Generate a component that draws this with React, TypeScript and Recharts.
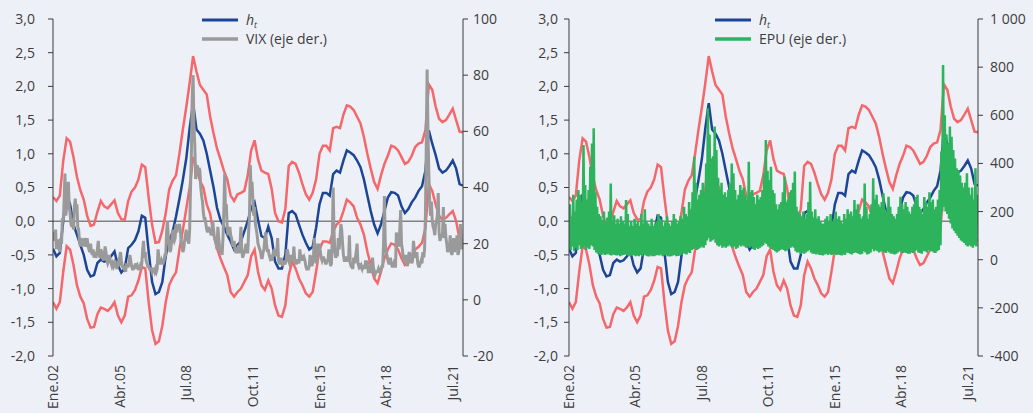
import React from 'react';
import { LineChart, Line, XAxis, YAxis, ReferenceLine } from 'recharts';

// ---------- styling ----------
const FONT = '"Open Sans", "Noto Sans", sans-serif';
const TEXT = '#3d3d3d';
const AXIS = '#3a3a3a';
const BG = '#eef0f7';
const BLUE = '#1c4596';
const RED = '#f4676b';
const GRAY = '#9a9a9a';
const GREEN = '#2db35c';

// ---------- axes ----------
// month index 0 = Ene.02; one step = one month
const monthTicks = [0, 39, 78, 117, 156, 195, 234];
const monthLabels = ['Ene.02', 'Abr.05', 'Jul.08', 'Oct.11', 'Ene.15', 'Abr.18', 'Jul.21'];
const hTicks = [-2, -1.5, -1, -0.5, 0, 0.5, 1, 1.5, 2, 2.5, 3];
const vixTicks = [-20, 0, 20, 40, 60, 80, 100];
const epuTicks = [-400, -200, 0, 200, 400, 600, 800, 1000];

// ---------- h_t and its confidence band (one value every two months) ----------
const hT = [
  -0.41, -0.52, -0.47, 0.0, 0.4, 0.25, -0.05, -0.2, -0.35, -0.5,
  -0.72, -0.82, -0.8, -0.62, -0.57, -0.6, -0.58, -0.52, -0.45, -0.66,
  -0.76, -0.7, -0.4, -0.35, -0.28, -0.15, 0.08, 0.05, -0.45, -0.9,
  -1.08, -1.05, -0.9, -0.51, -0.3, -0.16, 0.07, 0.33, 0.61, 0.93,
  1.38, 1.75, 1.36, 1.3, 1.2, 1.0, 0.75, 0.5, 0.2, 0.02,
  -0.08, -0.2, -0.3, -0.42, -0.35, -0.3, -0.15, 0.0, 0.2, 0.28,
  0.02, -0.22, -0.25, -0.08, -0.25, -0.6, -0.7, -0.7, -0.5, 0.12,
  0.15, 0.1, -0.05, -0.2, -0.32, -0.42, -0.38, -0.1, 0.25, 0.42,
  0.42, 0.38, 0.7, 0.75, 0.72, 0.9, 1.05, 1.02, 0.98, 0.9,
  0.8, 0.62, 0.38, 0.15, -0.05, -0.18, -0.05, 0.15, 0.35, 0.43,
  0.42, 0.38, 0.22, 0.12, 0.18, 0.28, 0.35, 0.45, 0.52, 0.75,
  1.35, 1.15, 0.98, 0.78, 0.72, 0.75, 0.82, 0.9, 0.78, 0.55, 0.53,
];

const upperBand = [
  0.36, 0.3, 0.38, 0.9, 1.23, 1.18, 0.95, 0.66, 0.46, 0.32,
  0.08, -0.07, -0.05, 0.14, 0.3, 0.22, 0.19, 0.25, 0.31, 0.12,
  0.03, 0.02, 0.3, 0.44, 0.5, 0.62, 0.84, 0.8, 0.35, -0.05,
  -0.32, -0.31, -0.14, 0.12, 0.47, 0.6, 0.68, 1.0, 1.36, 1.69,
  2.05, 2.45, 2.22, 2.02, 1.95, 1.88, 1.55, 1.3, 1.08, 0.92,
  0.75, 0.62, 0.38, 0.3, 0.4, 0.42, 0.45, 0.68, 1.05, 1.2,
  0.92, 0.75, 0.72, 0.7, 0.48, 0.12, 0.0, -0.02, 0.18, 0.82,
  0.88, 0.85, 0.72, 0.55, 0.4, 0.32, 0.42, 0.62, 1.0, 1.12,
  1.12, 1.05, 1.38, 1.4, 1.38, 1.58, 1.72, 1.7, 1.65, 1.55,
  1.45, 1.25, 1.0, 0.78, 0.58, 0.48, 0.68, 0.85, 0.97, 1.12,
  1.1, 1.05, 0.95, 0.85, 0.88, 0.97, 1.1, 1.15, 1.17, 1.35,
  2.03, 1.95, 1.7, 1.52, 1.47, 1.5, 1.58, 1.67, 1.5, 1.33, 1.32,
];

const lowerBand = [
  -1.2, -1.3, -1.2, -0.75, -0.37, -0.42, -0.65, -0.95, -1.12, -1.22,
  -1.45, -1.58, -1.57, -1.38, -1.28, -1.3, -1.33, -1.28, -1.2, -1.4,
  -1.5, -1.4, -1.12, -1.1, -1.02, -0.88, -0.68, -0.7, -1.2, -1.62,
  -1.82, -1.78, -1.55, -1.2, -0.95, -0.84, -0.76, -0.42, -0.13, 0.18,
  0.5, 0.95, 0.8, 0.6, 0.5, 0.25, 0.11, -0.2, -0.4, -0.55,
  -0.68, -0.8, -1.05, -1.12, -1.05, -1.0, -0.9, -0.8, -0.52, -0.42,
  -0.75, -0.95, -1.02, -0.88, -1.0, -1.25, -1.4, -1.42, -1.25, -0.8,
  -0.6, -0.7, -0.85, -0.95, -1.07, -1.12, -1.05, -0.75, -0.42, -0.3,
  -0.3, -0.32, -0.15, -0.05, 0.0, 0.15, 0.32, 0.28, 0.22, 0.05,
  -0.05, -0.2, -0.45, -0.65, -0.85, -0.92, -0.75, -0.55, -0.42, -0.33,
  -0.35, -0.42, -0.55, -0.65, -0.62, -0.52, -0.42, -0.38, -0.32, -0.1,
  0.55, 0.45, 0.25, 0.08, 0.02, 0.05, 0.1, 0.15, 0.0, -0.27, -0.28,
];

// ---------- VIX (two readings a month) ----------
const vix = [
  22, 24, 21, 25, 18, 21, 21, 19, 17, 22, 20, 29, 28, 35, 45, 30, 33, 40, 42, 33, 31, 27, 26, 29,
  25, 33, 36, 32, 34, 26, 25, 21, 19, 22, 20, 21, 19, 22, 20, 19, 22, 19, 18, 17, 20, 17, 16, 18,
  15, 17, 15, 16, 18, 21, 16, 15, 18, 17, 15, 14, 16, 19, 17, 14, 13, 14, 16, 14, 13, 12, 13, 12,
  13, 12, 12, 11, 14, 12, 15, 17, 14, 12, 12, 11, 11, 10, 13, 12, 12, 13, 16, 14, 12, 11, 11, 12,
  12, 13, 11, 12, 11, 11, 12, 11, 13, 18, 21, 15, 17, 14, 13, 12, 12, 11, 11, 11, 10, 11, 11, 10,
  11, 10, 11, 18, 15, 13, 13, 14, 13, 13, 14, 16, 16, 24, 28, 22, 20, 17, 18, 21, 25, 22, 21, 22,
  27, 24, 26, 25, 27, 25, 21, 20, 17, 18, 21, 23, 25, 22, 21, 20, 25, 40, 52, 72, 80, 62, 55, 43,
  45, 48, 45, 47, 46, 40, 37, 35, 31, 29, 29, 27, 25, 24, 26, 25, 25, 23, 24, 28, 25, 22, 21, 20,
  18, 26, 22, 19, 17, 17, 16, 22, 32, 45, 30, 34, 25, 23, 25, 26, 23, 22, 20, 19, 21, 18, 17, 17,
  18, 17, 17, 20, 26, 18, 15, 16, 17, 18, 20, 17, 17, 24, 30, 48, 38, 42, 36, 30, 33, 27, 25, 23,
  20, 19, 18, 17, 15, 15, 17, 18, 22, 24, 20, 17, 18, 16, 15, 16, 14, 15, 17, 18, 16, 16, 17, 22,
  14, 13, 13, 15, 13, 12, 14, 13, 13, 14, 18, 17, 14, 13, 14, 16, 15, 14, 19, 14, 13, 13, 14, 14,
  13, 18, 15, 14, 16, 14, 15, 14, 12, 11, 11, 11, 12, 16, 14, 12, 13, 16, 22, 15, 13, 14, 20, 17,
  20, 17, 15, 14, 15, 15, 14, 13, 13, 14, 14, 18, 14, 12, 13, 22, 40, 24, 17, 15, 16, 16, 22, 18,
  22, 27, 25, 20, 16, 14, 14, 15, 15, 14, 14, 23, 13, 12, 12, 11, 15, 13, 15, 17, 20, 13, 12, 13,
  11, 12, 11, 12, 12, 11, 14, 11, 14, 10, 10, 11, 10, 10, 15, 12, 10, 9, 10, 10, 10, 11, 10, 10,
  11, 12, 12, 20, 37, 20, 17, 16, 14, 13, 13, 15, 13, 12, 12, 13, 12, 12, 24, 20, 20, 19, 25, 32,
  20, 18, 15, 14, 14, 16, 13, 12, 15, 17, 16, 15, 13, 14, 21, 18, 16, 15, 17, 13, 12, 12, 13, 14,
  13, 17, 15, 18, 30, 55, 82, 60, 45, 35, 30, 35, 28, 26, 25, 23, 27, 28, 30, 38, 24, 21, 22, 23,
  23, 33, 22, 27, 22, 20, 17, 18, 18, 23, 17, 16, 18, 22, 17, 21, 19, 23, 16, 17, 20, 27, 22, 18,
];

// ---------- EPU (two readings a month) ----------
const epu = [
  45, 230, 40, 180, 55, 270, 35, 200, 50, 250, 40, 290, 60, 270, 45, 240, 50, 476, 55, 310, 40, 250, 50, 290,
  45, 386, 60, 483, 55, 546, 40, 280, 30, 220, 25, 190, 22, 180, 20, 165, 25, 200, 20, 155, 22, 175, 25, 200,
  20, 317, 18, 165, 22, 185, 20, 150, 18, 170, 20, 150, 15, 180, 18, 160, 20, 150, 22, 248, 20, 190, 15, 140,
  15, 160, 18, 140, 20, 170, 15, 150, 18, 160, 15, 140, 20, 190, 15, 150, 25, 210, 18, 160, 15, 150, 14, 140,
  18, 170, 15, 140, 15, 150, 18, 160, 20, 190, 18, 170, 22, 165, 15, 140, 18, 155, 20, 180, 15, 150, 14, 140,
  15, 160, 18, 190, 20, 170, 15, 150, 16, 160, 18, 180, 20, 170, 30, 220, 25, 190, 22, 180, 30, 240, 28, 210,
  40, 280, 45, 428, 50, 320, 40, 250, 45, 270, 50, 290, 55, 320, 50, 280, 60, 400, 80, 629, 90, 520, 75, 420,
  80, 430, 85, 553, 70, 456, 60, 340, 55, 290, 60, 320, 50, 270, 55, 280, 50, 260, 55, 290, 60, 317, 55, 400,
  50, 359, 55, 290, 45, 250, 50, 270, 60, 310, 55, 290, 60, 300, 55, 270, 50, 250, 55, 407, 50, 280, 55, 290,
  45, 260, 40, 230, 50, 270, 45, 250, 50, 260, 55, 290, 60, 360, 70, 497, 65, 370, 55, 330, 50, 386, 45, 290,
  40, 276, 35, 230, 30, 210, 35, 230, 40, 240, 45, 280, 40, 345, 35, 240, 40, 250, 45, 280, 50, 290, 55, 320,
  50, 366, 35, 220, 30, 200, 30, 190, 25, 180, 28, 200, 25, 170, 30, 190, 35, 240, 40, 324, 30, 200, 25, 170,
  25, 210, 22, 170, 25, 180, 20, 160, 20, 150, 18, 150, 22, 170, 25, 180, 20, 160, 25, 190, 20, 160, 22, 170,
  25, 200, 20, 170, 22, 180, 20, 160, 18, 150, 22, 190, 20, 170, 30, 210, 28, 190, 25, 200, 22, 180, 28, 248,
  30, 210, 28, 230, 25, 190, 22, 170, 25, 180, 35, 317, 30, 220, 22, 170, 25, 190, 30, 230, 45, 338, 35, 250,
  40, 270, 35, 230, 30, 220, 35, 240, 35, 276, 30, 210, 28, 200, 35, 262, 30, 220, 25, 190, 25, 180, 22, 170,
  25, 190, 30, 220, 35, 262, 30, 230, 28, 210, 30, 240, 28, 220, 25, 200, 25, 190, 30, 220, 28, 230, 35, 260,
  40, 270, 30, 220, 28, 210, 25, 190, 35, 260, 35, 240, 30, 220, 40, 280, 35, 240, 35, 250, 30, 210, 28, 220,
  35, 250, 40, 290, 60, 450, 200, 809, 220, 600, 200, 520, 190, 480, 170, 553, 150, 511, 130, 456, 120, 420, 110, 380,
  100, 373, 90, 350, 80, 320, 75, 300, 70, 320, 60, 359, 55, 300, 60, 270, 55, 300, 50, 250, 60, 380, 55, 270,
];

// ---------- rows for the library ----------
const bandRows = hT.map((h, i) => ({ m: i * 2, h, up: upperBand[i], lo: lowerBand[i] }));
const vixRows = vix.map((v, i) => ({ m: i / 2, v }));
const epuRows = epu.map((v, i) => ({ m: i / 2, v }));

const fmtLeft = (v: number) => v.toFixed(1).replace('.', ',');
const fmtThousands = (v: number) => {
  const s = String(Math.abs(v));
  const body = s.length > 3 ? s.slice(0, s.length - 3) + ' ' + s.slice(-3) : s;
  return (v < 0 ? '-' : '') + body;
};

const MonthTick = (props: any) => {
  const { x, y, payload } = props;
  const idx = monthTicks.indexOf(payload.value);
  return (
    <text
      x={x}
      y={y}
      transform={`rotate(-90 ${x} ${y})`}
      textAnchor="end"
      dy="0.36em"
      fill={TEXT}
      fontSize={14}
      fontFamily={FONT}
    >
      {idx >= 0 ? monthLabels[idx] : ''}
    </text>
  );
};

type PanelProps = {
  width: number;
  rows: { m: number; v: number }[];
  color: string;
  seriesWidth: number;
  label: string;
  rightTicks: number[];
  rightFmt: (v: number) => string;
  leftTickMargin: number;
  rightTickMargin: number;
  rightWidth: number;
  legendX: number;
};

function Panel(p: PanelProps) {
  const tickStyle = { fill: TEXT, fontSize: 14, fontFamily: FONT };
  return (
    <div style={{ position: 'relative', width: p.width, height: 413 }}>
      <LineChart width={p.width} height={413} margin={{ top: 19, right: 0, bottom: 0, left: 0 }}>
        <XAxis
          type="number"
          dataKey="m"
          domain={[0, 240]}
          ticks={monthTicks}
          interval={0}
          height={57}
          axisLine={false}
          tickLine={false}
          tickSize={0}
          tickMargin={9}
          tick={<MonthTick />}
          allowDataOverflow
        />
        <YAxis
          yAxisId="h"
          orientation="left"
          width={53}
          domain={[-2, 3]}
          ticks={hTicks}
          interval={0}
          tickFormatter={fmtLeft}
          tick={tickStyle}
          tickSize={5}
          tickMargin={p.leftTickMargin}
          axisLine={{ stroke: AXIS }}
          tickLine={{ stroke: AXIS }}
          allowDataOverflow
        />
        <YAxis
          yAxisId="r"
          orientation="right"
          width={p.rightWidth}
          domain={[p.rightTicks[0], p.rightTicks[p.rightTicks.length - 1]]}
          ticks={p.rightTicks}
          interval={0}
          tickFormatter={p.rightFmt}
          tick={tickStyle}
          tickSize={5}
          tickMargin={p.rightTickMargin}
          axisLine={{ stroke: AXIS }}
          tickLine={{ stroke: AXIS }}
          allowDataOverflow
        />
        <ReferenceLine yAxisId="h" y={0} stroke="#808080" strokeWidth={1.5} />
        <Line yAxisId="h" data={bandRows} dataKey="up" stroke={RED} strokeWidth={2.5} dot={false} isAnimationActive={false} />
        <Line yAxisId="h" data={bandRows} dataKey="lo" stroke={RED} strokeWidth={2.5} dot={false} isAnimationActive={false} />
        <Line yAxisId="h" data={bandRows} dataKey="h" stroke={BLUE} strokeWidth={2.5} dot={false} isAnimationActive={false} />
        <Line yAxisId="r" data={p.rows} dataKey="v" stroke={p.color} strokeWidth={p.seriesWidth} dot={false} isAnimationActive={false} />
      </LineChart>
      <svg
        width={p.width}
        height={60}
        style={{ position: 'absolute', left: 0, top: 0, pointerEvents: 'none' }}
        fontFamily={FONT}
        fontSize={14}
        fill={TEXT}
      >
        <line x1={p.legendX} x2={p.legendX + 36} y1={20} y2={20} stroke={BLUE} strokeWidth={3} />
        <text x={p.legendX + 44} y={25}>
          <tspan fontStyle="italic">h</tspan>
          <tspan fontStyle="italic" fontSize={9} dy={3}>t</tspan>
        </text>
        <line x1={p.legendX} x2={p.legendX + 36} y1={39} y2={39} stroke={p.color} strokeWidth={3.5} />
        <text x={p.legendX + 44} y={44}>{p.label}</text>
      </svg>
    </div>
  );
}

export default function App() {
  return (
    <div
      style={{
        position: 'absolute',
        left: 0,
        top: 0,
        width: 1033,
        height: 413,
        background: BG,
        display: 'flex',
        overflow: 'hidden',
      }}
    >
      <Panel
        width={516}
        rows={vixRows}
        color={GRAY}
        seriesWidth={3}
        label="VIX (eje der.)"
        rightTicks={vixTicks}
        rightFmt={(v) => String(v)}
        leftTickMargin={13}
        rightTickMargin={5}
        rightWidth={53}
        legendX={202}
      />
      <Panel
        width={517}
        rows={epuRows}
        color={GREEN}
        seriesWidth={2.5}
        label="EPU (eje der.)"
        rightTicks={epuTicks}
        rightFmt={fmtThousands}
        leftTickMargin={6}
        rightTickMargin={7}
        rightWidth={55}
        legendX={199}
      />
    </div>
  );
}
